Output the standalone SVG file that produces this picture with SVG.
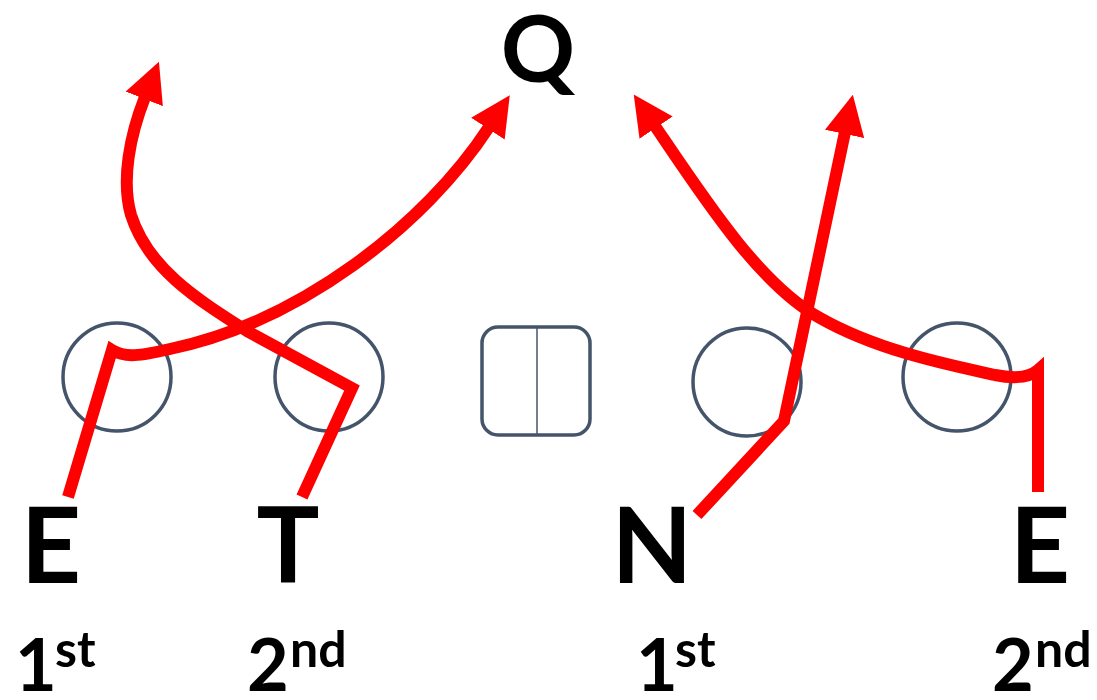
<svg xmlns="http://www.w3.org/2000/svg" width="1097" height="700" viewBox="0 0 1097 700">
<style>
.pos{fill:none;stroke:#44546A;stroke-width:3.5}
.route{fill:none;stroke:#FF0000;stroke-width:12;stroke-linejoin:miter;stroke-linecap:butt}
.lbl{font-family:Lato,"Open Sans","Liberation Sans",sans-serif;font-weight:700;fill:#000}
.big{font-size:105px}
.num{font-size:72px}
.sup{font-size:50px}
</style>
<defs>
<marker id="ah" markerUnits="userSpaceOnUse" markerWidth="40" markerHeight="40" viewBox="0 0 40 40" refX="2" refY="20" orient="auto">
<path d="M0,0 L40,20 L0,40 z" fill="#FF0000"/>
</marker>
</defs>
<rect width="1097" height="700" fill="#fff"/>
<g id="Q"><text class="lbl" x="538" y="82" font-size="92" text-anchor="middle">Q</text></g>
<g id="C"><rect class="pos" x="482" y="327" width="108" height="108" rx="16"/><line x1="537" y1="327" x2="537" y2="435" stroke="#44546A" stroke-width="1.5"/></g>
<g id="p1"><circle class="pos" cx="117" cy="377" r="54"/></g>
<g id="p2"><circle class="pos" cx="329" cy="377" r="54"/></g>
<g id="p3"><circle class="pos" cx="747" cy="382" r="54"/></g>
<g id="p4"><circle class="pos" cx="957" cy="377" r="54"/></g>
<g id="connectors">
<path class="route" marker-end="url(#ah)" d="M68,497 L112,350 C125,358 140,356 170,349 C300,322 425,225 489,127"/>
<path class="route" marker-end="url(#ah)" d="M302,497 L352,388 L247,331 C195,298 148,268 131,215 C121,180 130,135 145,97"/>
<path class="route" marker-end="url(#ah)" d="M697,515 L784,421 L845,132"/>
<path class="route" marker-end="url(#ah)" d="M1038,492 L1038,370 C1030,377 1015,379 995,375 C955,366 880,352 820,318 C760,285 705,200 655,126"/>
</g>
<g id="E1"><text class="lbl big" x="51" y="583" text-anchor="middle">E</text><text class="lbl num" x="15" y="691">1</text><text class="lbl sup" x="55" y="667">st</text></g>
<g id="T"><text class="lbl big" x="288" y="583" text-anchor="middle">T</text><text class="lbl num" x="247" y="691">2</text><text class="lbl sup" x="290" y="667">nd</text></g>
<g id="N"><text class="lbl big" x="652" y="583" text-anchor="middle">N</text><text class="lbl num" x="636" y="691">1</text><text class="lbl sup" x="675" y="667">st</text></g>
<g id="E2"><text class="lbl big" x="1040" y="583" text-anchor="middle">E</text><text class="lbl num" x="992" y="691">2</text><text class="lbl sup" x="1035" y="667">nd</text></g>
</svg>
